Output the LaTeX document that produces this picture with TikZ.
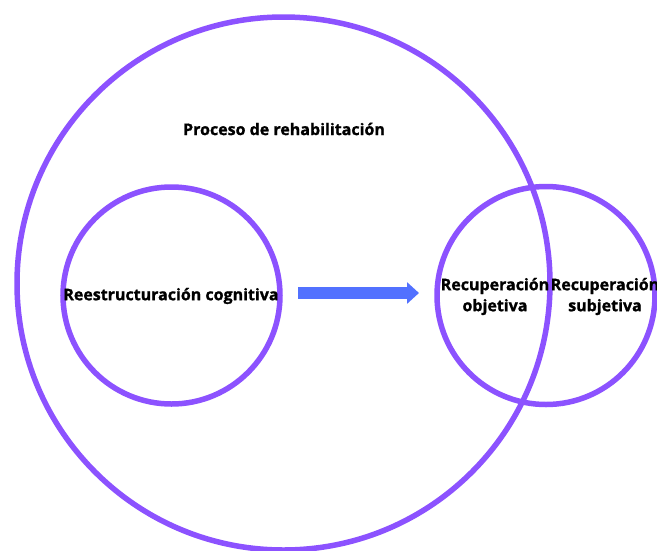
\documentclass[tikz,border=0pt]{standalone}
\usepackage{fontspec}
\setmainfont{Open Sans}[BoldFeatures={FakeBold=1.2}]
\usetikzlibrary{arrows.meta}
\definecolor{ringpurple}{HTML}{8C52FF}
\definecolor{arrowblue}{HTML}{5271FF}
\begin{document}
\begin{tikzpicture}[x=1pt,y=-1pt,
  ring/.style={circle,draw=ringpurple,line width=5.5pt,inner sep=0pt,minimum size=#1},
  lbl/.style={font=\fontsize{16}{21}\selectfont\bfseries,align=center,inner sep=0pt}]
\useasboundingbox (0,0) rectangle (657,550);
\clip (0,0) rectangle (657,550);
\fill[white] (0,0) rectangle (657,550);
\node[ring=533pt] (outer) at (283.5,283.5) {};
\node[ring=217pt] (left) at (171.5,295.5) {};
\node[ring=218pt] (right) at (546,295.5) {};
\node[lbl] (proc) at (284,129) {Proceso de rehabilitación};
\node[lbl] (reest) at (171,296) {Reestructuración cognitiva};
\node[lbl] (obj) at (495,296.5) {Recuperación\\objetiva};
\node[lbl] (subj) at (605,296.5) {Recuperación\\subjetiva};
\coordinate (as) at (298,293);
\coordinate (ae) at (419,293);
\draw[arrowblue,line width=12pt,-{Triangle[width=21pt,length=12pt]}] (as) -- (ae);
\end{tikzpicture}
\end{document}
